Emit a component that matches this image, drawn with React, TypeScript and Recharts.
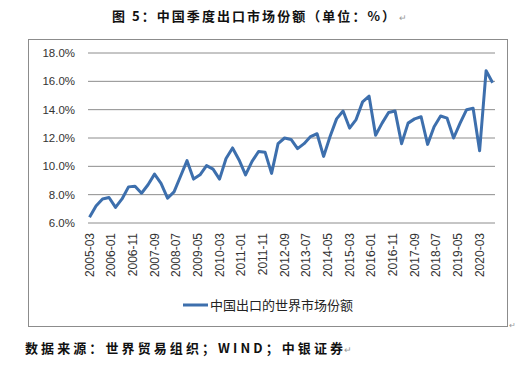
import React from "react";
import { LineChart, Line, XAxis, YAxis, CartesianGrid } from "recharts";

const titleText = "图 5：中国季度出口市场份额（单位：%）";
const sourceText = "数据来源：世界贸易组织；WIND；中银证券";
const seriesName = "中国出口的世界市场份额";

const quarters = [
  "2005-03", "2005-06", "2005-09", "2005-12",
  "2006-03", "2006-06", "2006-09", "2006-12",
  "2007-03", "2007-06", "2007-09", "2007-12",
  "2008-03", "2008-06", "2008-09", "2008-12",
  "2009-03", "2009-06", "2009-09", "2009-12",
  "2010-03", "2010-06", "2010-09", "2010-12",
  "2011-03", "2011-06", "2011-09", "2011-12",
  "2012-03", "2012-06", "2012-09", "2012-12",
  "2013-03", "2013-06", "2013-09", "2013-12",
  "2014-03", "2014-06", "2014-09", "2014-12",
  "2015-03", "2015-06", "2015-09", "2015-12",
  "2016-03", "2016-06", "2016-09", "2016-12",
  "2017-03", "2017-06", "2017-09", "2017-12",
  "2018-03", "2018-06", "2018-09", "2018-12",
  "2019-03", "2019-06", "2019-09", "2019-12",
  "2020-03", "2020-06", "2020-09",
];

const shareValues = [
  6.4, 7.2, 7.7, 7.8,
  7.1, 7.7, 8.55, 8.6,
  8.1, 8.7, 9.45, 8.8,
  7.75, 8.2, 9.3, 10.4,
  9.1, 9.4, 10.05, 9.8,
  9.1, 10.55, 11.3, 10.45,
  9.4, 10.35, 11.05, 11.0,
  9.5, 11.6, 12.0, 11.9,
  11.25, 11.6, 12.1, 12.3,
  10.7, 12.1, 13.35, 13.9,
  12.7, 13.3, 14.55, 14.95,
  12.2, 13.05, 13.8, 13.9,
  11.6, 13.05, 13.35, 13.5,
  11.55, 12.8, 13.55, 13.4,
  12.0, 13.05, 14.0, 14.1,
  11.1, 16.75, 15.9,
];

const xTickLabels = [
  "2005-03", "2006-01", "2006-11", "2007-09", "2008-07", "2009-05", "2010-03",
  "2011-01", "2011-11", "2012-09", "2013-07", "2014-05", "2015-03", "2016-01",
  "2016-11", "2017-09", "2018-07", "2019-05", "2020-03",
];

const yTicks = [6, 8, 10, 12, 14, 16, 18];

const monthIndex = (s: string) => {
  const [y, m] = s.split("-").map(Number);
  return (y - 2005) * 12 + (m - 3);
};

const data = quarters.map((q, i) => ({ t: monthIndex(q), label: q, value: shareValues[i] }));
const xTicks = xTickLabels.map(monthIndex);
const labelFor = (v: number) => xTickLabels[xTicks.indexOf(v)] ?? "";

const BLUE = "#3D6FAD";

const XTick = (props: any) => {
  const { x, y, payload } = props;
  const ty = y + 2;
  return (
    <text
      x={x}
      y={ty}
      transform={`rotate(-90, ${x}, ${ty})`}
      textAnchor="end"
      dominantBaseline="central"
      fontSize={12}
      fontFamily="'Liberation Sans', Arial, sans-serif"
      fill="#333"
    >
      {labelFor(payload.value)}
    </text>
  );
};

export default function App() {
  return (
    <div style={{ position: "relative", width: 524, height: 377, margin: -8, background: "#fff" }}>
      <div style={{ position: "absolute", left: 0, top: 0 }}>
        <LineChart
          width={524}
          height={377}
          data={data}
          margin={{ top: 53, right: 29, bottom: 94, left: 28 }}
        >
          <CartesianGrid vertical={false} stroke="#8c8c8c" strokeWidth={1} />
          <XAxis
            dataKey="t"
            type="number"
            domain={[-0.7, 187.1]}
            ticks={xTicks}
            interval={0}
            tick={<XTick />}
            tickLine={false}
            axisLine={false}
            height={60}
            allowDataOverflow
          />
          <YAxis
            domain={[6, 18]}
            ticks={yTicks}
            tickFormatter={(v: number) => v.toFixed(1) + "%"}
            tickLine={false}
            axisLine={false}
            tickMargin={7}
            width={60}
            tick={{ fontSize: 11.5, fill: "#333", fontFamily: "'Liberation Sans', Arial, sans-serif" }}
            interval={0}
          />
          <Line
            name={seriesName}
            dataKey="value"
            stroke={BLUE}
            strokeWidth={3}
            dot={false}
            isAnimationActive={false}
            strokeLinejoin="round"
          />
        </LineChart>
      </div>
      <svg
        width={524}
        height={377}
        style={{ position: "absolute", left: 0, top: 0, pointerEvents: "none" }}
      >
        <text
          x={112}
          y={21}
          textLength={283}
          lengthAdjust="spacing"
          fontSize={13}
          fontWeight={700}
          fontFamily="'Noto Sans CJK SC', sans-serif"
          fill="#111"
        >
          {titleText}
        </text>
        <text x={399} y={21} fontSize={9} fill="#999">↵</text>
        <rect x={28.5} y={39.5} width={479} height={287} fill="none" stroke="#8c8c8c" strokeWidth={1} />
        <line x1={183} y1={305} x2={208} y2={305} stroke={BLUE} strokeWidth={3} />
        <text
          x={210}
          y={309.5}
          fontSize={13}
          fontFamily="'Noto Sans CJK SC', sans-serif"
          fill="#222"
        >
          {seriesName}
        </text>
        <text x={509} y={328} fontSize={8} fill="#999">↵</text>
        <text
          x={25}
          y={353}
          textLength={318}
          lengthAdjust="spacing"
          fontSize={13}
          fontWeight={700}
          fontFamily="'Noto Sans CJK SC', sans-serif"
          fill="#111"
        >
          {sourceText}
        </text>
        <text x={344} y={353} fontSize={9} fill="#999">↵</text>
      </svg>
    </div>
  );
}
